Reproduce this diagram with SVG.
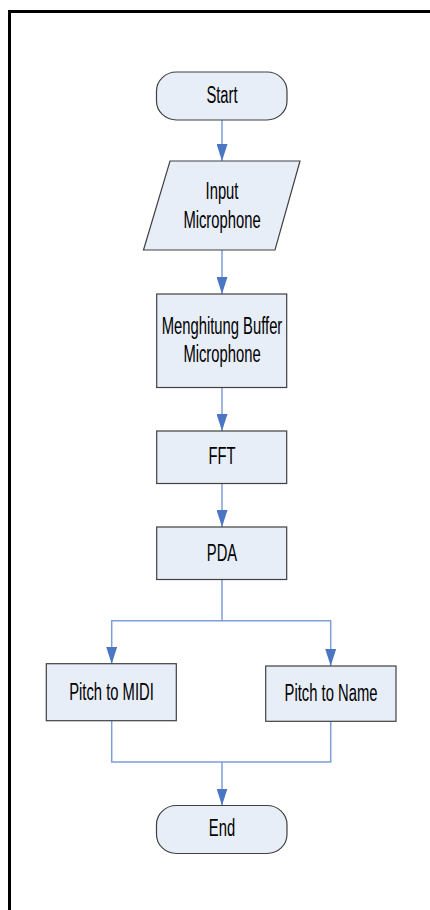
<svg xmlns="http://www.w3.org/2000/svg" width="430" height="910" viewBox="0 0 430 910">
<defs>
<marker id="ah" viewBox="0 0 11 17" refX="11" refY="5.5" markerWidth="11" markerHeight="17" markerUnits="userSpaceOnUse" orient="auto">
<path d="M0,0 L11,5.5 L0,11 Z" fill="#4a76c4"/>
</marker>
<marker id="ahd" viewBox="0 0 17 11" refX="17" refY="5.5" markerWidth="17" markerHeight="11" markerUnits="userSpaceOnUse" orient="auto">
<path d="M0,0 L17,5.5 L0,11 Z" fill="#4a76c4"/>
</marker>
</defs>
<style>
.node{fill:#e8eef8;stroke:#404040;stroke-width:1.2}
.lbl{font-family:"Liberation Sans",Arial,sans-serif;font-size:14.8px;fill:#000;text-anchor:middle}
.edge{fill:none;stroke:#7d9fd8;stroke-width:1.5}
</style>
<rect width="430" height="910" fill="#fff"/>
<path d="M9.5,910 V11.5 H432" fill="none" stroke="#000" stroke-width="3"/>

<g id="connectors">
<path class="edge" d="M222,120 V161" marker-end="url(#ahd)"/>
<path class="edge" d="M222,250 V294" marker-end="url(#ahd)"/>
<path class="edge" d="M222,387.5 V431" marker-end="url(#ahd)"/>
<path class="edge" d="M222,483.5 V527" marker-end="url(#ahd)"/>
<path class="edge" d="M222,579.5 V620.7 H111.7 V664" marker-end="url(#ahd)"/>
<path class="edge" d="M222,620.7 H330.7 V666" marker-end="url(#ahd)"/>
<path class="edge" d="M111.7,720.7 V762 H330.7 V721.3"/>
<path class="edge" d="M222,762 V805.5" marker-end="url(#ahd)"/>
</g>

<g id="start">
<rect class="node" x="156.5" y="72" width="130.5" height="48" rx="20" ry="19"/>
<text class="lbl" transform="translate(222,103.3) scale(1,1.58)">Start</text>
</g>

<g id="input">
<polygon class="node" points="170,161 300,161 275,250 143.5,250"/>
<text class="lbl" transform="translate(222,199.3) scale(1,1.58)">Input</text>
<text class="lbl" transform="translate(222,227.7) scale(1,1.58)">Microphone</text>
</g>

<g id="buffer">
<rect class="node" x="156.7" y="294" width="130" height="93.5"/>
<text class="lbl" transform="translate(222,334.3) scale(1,1.58)">Menghitung Buffer</text>
<text class="lbl" transform="translate(222,361.7) scale(1,1.58)">Microphone</text>
</g>

<g id="fft">
<rect class="node" x="156.7" y="431" width="130" height="52.5"/>
<text class="lbl" transform="translate(222,464.3) scale(1,1.58)">FFT</text>
</g>

<g id="pda">
<rect class="node" x="156.7" y="527" width="130" height="52.5"/>
<text class="lbl" transform="translate(222,560.7) scale(1,1.58)">PDA</text>
</g>

<g id="midi">
<rect class="node" x="46.3" y="663.7" width="130" height="57"/>
<text class="lbl" transform="translate(111.5,700) scale(1,1.58)">Pitch to MIDI</text>
</g>

<g id="name">
<rect class="node" x="265.7" y="666" width="130.3" height="55.3"/>
<text class="lbl" transform="translate(331,700.7) scale(1,1.58)">Pitch to Name</text>
</g>

<g id="end">
<rect class="node" x="156.5" y="805.5" width="130.5" height="48" rx="20" ry="19"/>
<text class="lbl" transform="translate(222,836) scale(1,1.58)">End</text>
</g>
</svg>
